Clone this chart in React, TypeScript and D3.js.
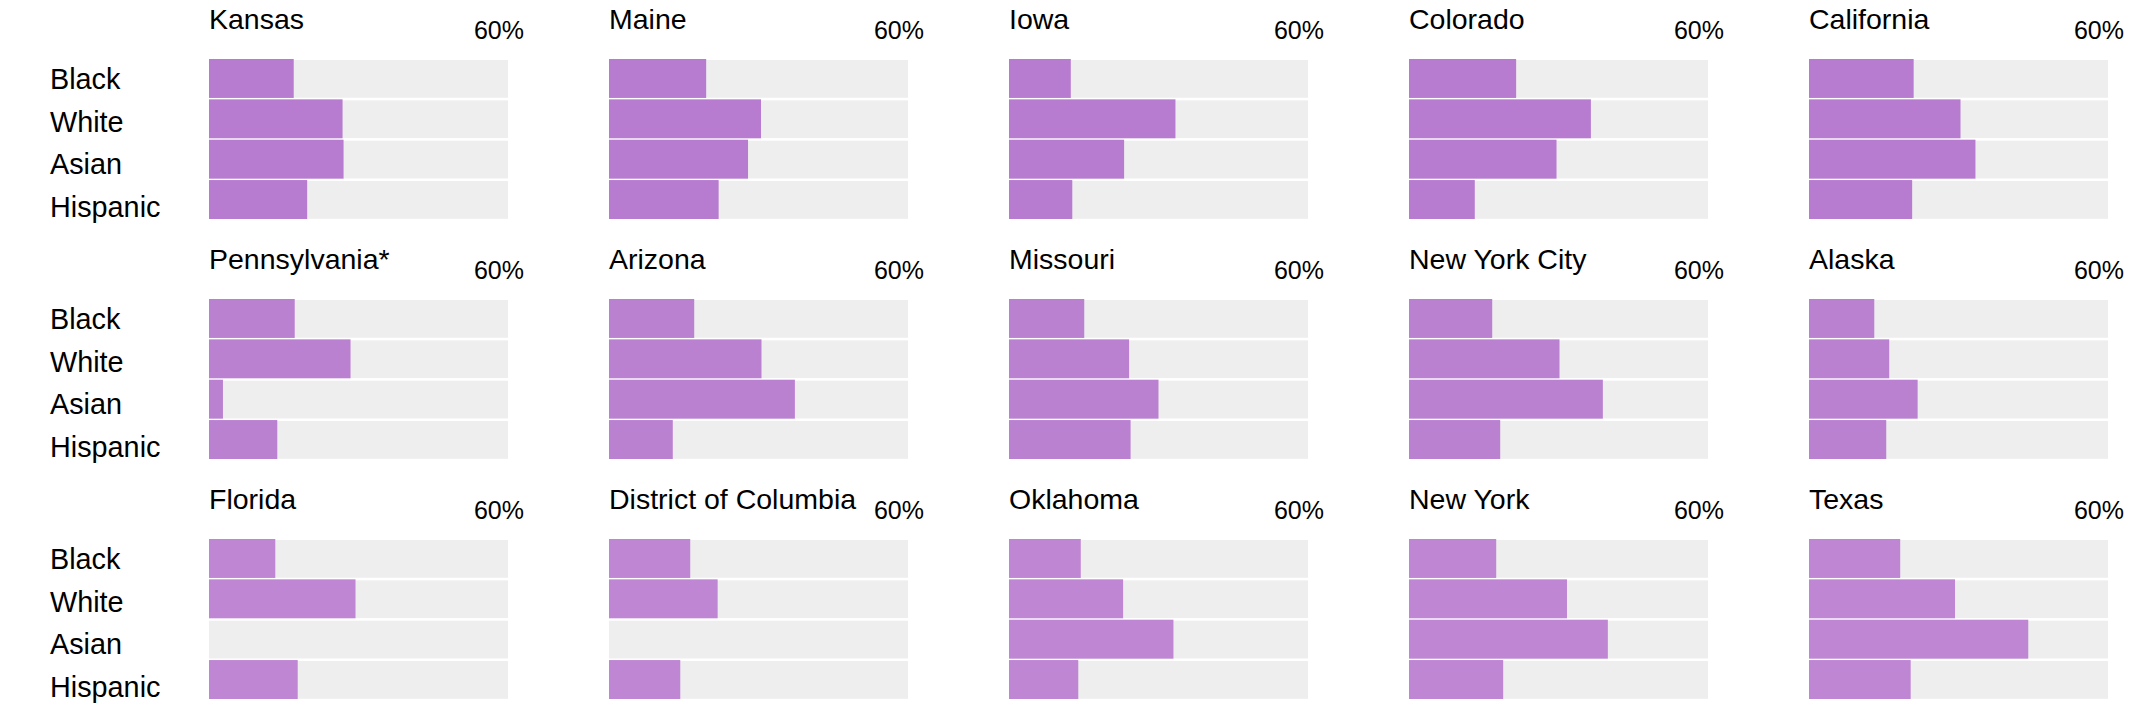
import React from 'react'
import * as d3 from 'd3'

const places = [
  'Kansas', 'Maine', 'Iowa', 'Colorado', 'California',
  'Pennsylvania*', 'Arizona', 'Missouri', 'New York City', 'Alaska',
  'Florida', 'District of Columbia', 'Oklahoma', 'New York', 'Texas',
]
const groups = ['Black', 'White', 'Asian', 'Hispanic']

// share per group, in percent, same order as groups (null = no bar)
const kansas = [17.0, 26.8, 27.0, 19.7]
const maine = [19.5, 30.5, 27.9, 22.0]
const iowa = [12.4, 33.4, 23.1, 12.7]
const colorado = [21.5, 36.5, 29.6, 13.2]
const california = [21.0, 30.4, 33.4, 20.7]
const pennsylvania = [17.2, 28.4, 2.8, 13.7]
const arizona = [17.1, 30.6, 37.3, 12.8]
const missouri = [15.1, 24.1, 30.0, 24.4]
const nyc = [16.7, 30.2, 38.9, 18.3]
const alaska = [13.1, 16.1, 21.8, 15.5]
const florida = [13.3, 29.4, null, 17.8]
const dc = [16.3, 21.8, null, 14.3]
const oklahoma = [14.4, 22.9, 33.0, 13.9]
const newYork = [17.5, 31.7, 39.9, 18.9]
const texas = [18.3, 29.3, 44.0, 20.4]

const allValues = [
  kansas, maine, iowa, colorado, california,
  pennsylvania, arizona, missouri, nyc, alaska,
  florida, dc, oklahoma, newYork, texas,
]

const maxLabel = '60%'
const rowColors = ['#b77bcf', '#bb81d1', '#be86d3']

const W = 2155
const H = 722
const font = '"Liberation Sans", Arial, Helvetica, sans-serif'

function Panel({ name, values, x0, top, showLabels, color }) {
  const xScale = d3.scaleLinear().domain([0, 60]).range([0, 299])
  const yScale = d3.scaleBand().domain(groups).range([top, top + 160]).paddingInner(0.035)
  const bw = yScale.bandwidth()
  // the row labels sit on a slightly looser spacing than the bars
  const labelY = d3.scalePoint().domain(groups).range([top + 30, top + 30 + 3 * 42.6])

  return (
    <g>
      <text x={x0} y={top - 30} fontSize={28.5} fontFamily={font} fill="#000">{name}</text>
      <text x={x0 + 315} y={top - 20} fontSize={25} fontFamily={font} textAnchor="end" fill="#000">{maxLabel}</text>
      {groups.map((g, i) => (
        <g key={g}>
          <rect x={x0} y={yScale(g) + 1} width={xScale(60)} height={bw - 1.2} fill="#eeeeee" />
          {values[i] != null && (
            <rect x={x0} y={yScale(g)} width={xScale(values[i])} height={bw} fill={color} />
          )}
          {showLabels && (
            <text x={50} y={labelY(g)} fontSize={28.8} fontFamily={font} fill="#000">{g}</text>
          )}
        </g>
      ))}
    </g>
  )
}

export default function App() {
  return (
    <svg width={W} height={H} style={{ position: 'absolute', left: 0, top: 0, background: '#fff' }}>
      {places.map((p, i) => {
        const col = i % 5
        const row = Math.floor(i / 5)
        return (
          <Panel
            key={p}
            name={p}
            values={allValues[i]}
            x0={209 + col * 400}
            top={59 + row * 240}
            showLabels={col === 0}
            color={rowColors[row]}
          />
        )
      })}
    </svg>
  )
}
